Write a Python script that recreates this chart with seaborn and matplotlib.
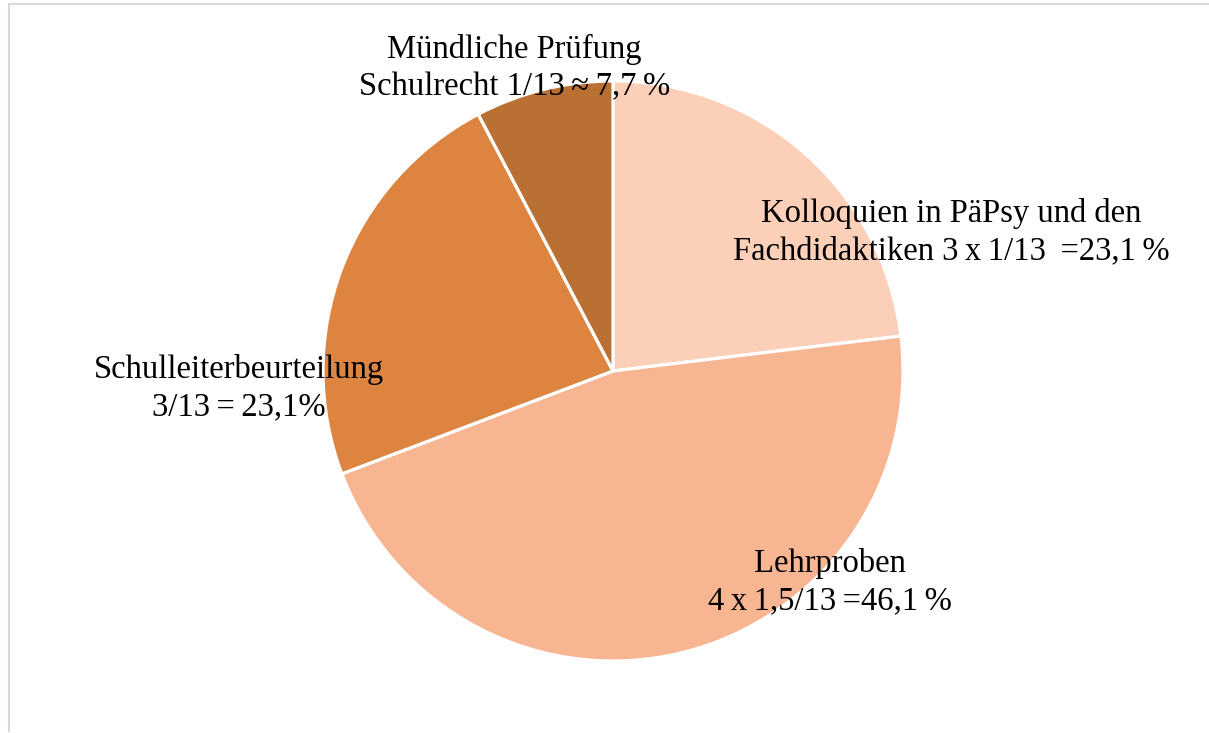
import matplotlib
matplotlib.use("Agg")
import matplotlib.pyplot as plt
import seaborn as sns
from matplotlib.lines import Line2D

# Anteile (in Dreizehnteln), im Uhrzeigersinn ab 12 Uhr
anteile = [3, 6, 3, 1]
beschriftungen = [
    "Kolloquien in PäPsy und den\nFachdidaktiken 3\u2009x\u20091/13 \u2009=23,1\u2009%",
    "Lehrproben\n4\u2009x\u20091,5/13\u2009=46,1\u2009%",
    "Schulleiterbeurteilung\n3/13\u2009=\u200923,1%",
    "Mündliche Prüfung\nSchulrecht 1/13\u2009≈\u20097,7\u2009%",
]
farben = ["#FBCFB8", "#F8B592", "#DC8440", "#B97032"]

# Positionen der Beschriftungen (relativ zum Kreisradius)
label_pos = [(1.166, 0.479), (0.748, -0.727), (-1.29, -0.058), (-0.34, 1.045)]

sns.set_theme(style="white")
plt.rcParams["font.family"] = ["Liberation Serif", "DejaVu Serif"]

W, H = 1209, 733
cx, cy, r = 613, 371, 290

fig = plt.figure(figsize=(W / 100, H / 100), dpi=100)
ax = fig.add_axes([0, 0, 1, 1])

wedges, _ = ax.pie(anteile, colors=sns.color_palette(farben), startangle=90,
                   counterclock=False, radius=1,
                   wedgeprops=dict(edgecolor="white", linewidth=2.3))

for text, (x, y) in zip(beschriftungen, label_pos):
    ax.text(x, y, text, ha="center", va="center", fontsize=23.5,
            linespacing=1.28, color="black")

ax.set_xlim(-cx / r, (W - cx) / r)
ax.set_ylim(-(H - cy) / r, cy / r)
ax.set_aspect("equal")
ax.axis("off")

# Rahmen oben und links
fig.add_artist(Line2D([8.5 / W, 8.5 / W], [2 / H, (H - 4) / H],
                      color="#d9d9d9", linewidth=1.5, transform=fig.transFigure))
fig.add_artist(Line2D([8.5 / W, 1], [(H - 4) / H, (H - 4) / H],
                      color="#d9d9d9", linewidth=1.5, transform=fig.transFigure))

fig.savefig("out.png", dpi=100)
